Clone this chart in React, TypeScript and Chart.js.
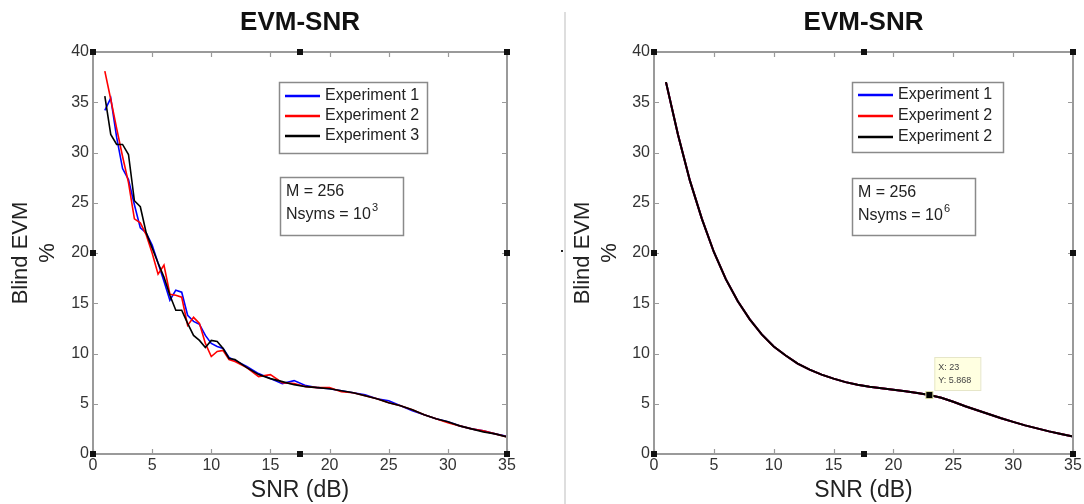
import React, { useEffect, useRef } from 'react';
import { Chart, registerables } from 'chart.js';

Chart.register(...registerables);

const FONT = '"Liberation Sans", Arial, Helvetica, sans-serif';

// ---------- Left panel (Nsyms = 10^3): noisy experiments ----------
const snrNoisy = [
  1, 1.5, 2, 2.5, 3, 3.5, 4, 4.5, 5, 5.5, 6, 6.5, 7, 7.5, 8, 8.5, 9, 9.5, 10, 10.5, 11, 11.5, 12,
  13, 14, 15, 16, 17, 18, 19, 20, 21, 22, 23, 24, 25, 26, 27, 28, 29, 30, 31, 32, 33, 34, 35,
];
const exp1Noisy = [
  34.2, 35.4, 31.5, 28.4, 27.3, 24.8, 22.5, 22.0, 20.8, 19.0, 17.2, 15.3, 16.3, 16.1, 13.8, 13.2, 12.9, 11.8, 11.0, 10.7, 10.5, 9.6, 9.3,
  8.7, 8.0, 7.5, 7.0, 7.3, 6.8, 6.6, 6.5, 6.3, 6.1, 5.9, 5.5, 5.3, 4.8, 4.3, 3.9, 3.5, 3.2, 2.8, 2.5, 2.3, 2.0, 1.75,
];
const exp2Noisy = [
  38.1, 35.3, 32.4, 29.6, 27.0, 23.4, 23.0, 21.8, 20.0, 17.9, 18.8, 15.9, 15.8, 15.6, 12.8, 13.6, 13.0, 11.0, 9.7, 10.2, 10.3, 9.4, 9.2,
  8.6, 7.7, 7.9, 7.1, 7.0, 6.7, 6.6, 6.6, 6.2, 6.1, 5.8, 5.5, 5.1, 4.8, 4.4, 3.9, 3.5, 3.1, 2.8, 2.5, 2.3, 2.0, 1.7,
];
const exp3Noisy = [
  35.6, 31.8, 30.8, 30.8, 29.8, 25.2, 24.6, 22.0, 20.5, 19.0, 17.6, 15.8, 14.3, 14.3, 13.0, 11.8, 11.3, 10.6, 11.3, 11.2, 10.5, 9.5, 9.4,
  8.6, 7.9, 7.5, 7.2, 6.9, 6.7, 6.6, 6.5, 6.3, 6.1, 5.8, 5.5, 5.1, 4.8, 4.4, 3.9, 3.5, 3.2, 2.8, 2.5, 2.2, 2.0, 1.7,
];

// ---------- Right panel (Nsyms = 10^6): smooth experiments ----------
const snrSmooth = [
  1, 2, 3, 4, 5, 6, 7, 8, 9, 10, 11, 12, 13, 14, 15, 16, 17, 18, 19, 20, 21, 22, 23, 24, 25, 26, 27, 28, 29, 30, 31, 32, 33, 34, 35,
];
const exp1Smooth = [
  37.0, 31.8, 27.2, 23.4, 20.1, 17.4, 15.2, 13.4, 11.9, 10.7, 9.8, 9.0, 8.4, 7.9, 7.5, 7.15, 6.9, 6.7, 6.55, 6.4, 6.25, 6.08, 5.868, 5.6, 5.2, 4.75, 4.35, 3.95, 3.55, 3.2, 2.85, 2.55, 2.25, 2.0, 1.75,
];
const exp2Smooth = [
  37.0, 31.8, 27.2, 23.4, 20.1, 17.4, 15.2, 13.4, 11.9, 10.7, 9.8, 9.0, 8.4, 7.9, 7.5, 7.15, 6.9, 6.7, 6.55, 6.4, 6.25, 6.08, 5.868, 5.6, 5.2, 4.75, 4.35, 3.95, 3.55, 3.2, 2.85, 2.55, 2.25, 2.0, 1.75,
];
const exp3Smooth = [
  37.0, 31.8, 27.2, 23.4, 20.1, 17.4, 15.2, 13.4, 11.9, 10.7, 9.8, 9.0, 8.4, 7.9, 7.5, 7.15, 6.9, 6.7, 6.55, 6.4, 6.25, 6.08, 5.868, 5.6, 5.2, 4.75, 4.35, 3.95, 3.55, 3.2, 2.85, 2.55, 2.25, 2.0, 1.75,
];

const xTickValues = [0, 5, 10, 15, 20, 25, 30, 35];
const yTickValues = [0, 5, 10, 15, 20, 25, 30, 35, 40];
const legendLeft = ['Experiment 1', 'Experiment 2', 'Experiment 3'];
const legendRight = ['Experiment 1', 'Experiment 2', 'Experiment 2'];
const seriesColors = ['#0000ff', '#ff0000', '#000000'];
const tipX = 23;
const tipY = 5.868;

type PanelProps = {
  width: number;
  yWidth: number;
  padRight: number;
  xs: number[];
  series: number[][];
  labels: string[];
  nsymsExp: string;
  lineWidth: number;
  legendRect: [number, number, number, number];
  legendLine: [number, number];
  legendTextX: number;
  legendRows: number[];
  annRect: [number, number, number, number];
  showTip: boolean;
};

function makePlugin(p: PanelProps) {
  return {
    id: 'matlabDecor',
    afterDraw(chart: any) {
      const ctx = chart.ctx as CanvasRenderingContext2D;
      const a = chart.chartArea;
      const xs = chart.scales.x;
      const ys = chart.scales.y;
      ctx.save();
      // title
      ctx.fillStyle = '#111';
      ctx.font = `bold 26px ${FONT}`;
      ctx.textAlign = 'center';
      ctx.textBaseline = 'middle';
      ctx.fillText('EVM-SNR', (a.left + a.right) / 2, 23);

      // frame
      ctx.strokeStyle = '#9a9a9a';
      ctx.lineWidth = 2;
      ctx.strokeRect(a.left, a.top, a.right - a.left, a.bottom - a.top);
      ctx.lineWidth = 1.2;
      ctx.beginPath();
      xTickValues.forEach((v) => {
        const px = Math.round(xs.getPixelForValue(v)) + 0.5;
        ctx.moveTo(px, a.bottom);
        ctx.lineTo(px, a.bottom - 5);
        ctx.moveTo(px, a.top);
        ctx.lineTo(px, a.top + 5);
      });
      yTickValues.forEach((v) => {
        const py = Math.round(ys.getPixelForValue(v)) + 0.5;
        ctx.moveTo(a.left, py);
        ctx.lineTo(a.left + 5, py);
        ctx.moveTo(a.right, py);
        ctx.lineTo(a.right - 5, py);
      });
      ctx.stroke();

      // selection handles
      ctx.fillStyle = '#111';
      const mx = (a.left + a.right) / 2;
      const my = (a.top + a.bottom) / 2;
      const handles = [
        [a.left, a.top], [mx, a.top], [a.right, a.top],
        [a.left, my], [a.right, my],
        [a.left, a.bottom], [mx, a.bottom], [a.right, a.bottom],
      ];
      handles.forEach(([hx, hy]) => ctx.fillRect(Math.round(hx) - 3, Math.round(hy) - 3, 6, 6));

      // legend box
      const [lx, ly, lw, lh] = p.legendRect;
      ctx.fillStyle = '#ffffff';
      ctx.fillRect(lx, ly, lw, lh);
      ctx.strokeStyle = '#8a8a8a';
      ctx.lineWidth = 1.5;
      ctx.strokeRect(lx + 0.5, ly + 0.5, lw, lh);
      ctx.font = `16px ${FONT}`;
      ctx.textAlign = 'left';
      ctx.textBaseline = 'middle';
      p.labels.forEach((lab, i) => {
        const ry = p.legendRows[i];
        ctx.strokeStyle = seriesColors[i];
        ctx.lineWidth = 2.5;
        ctx.beginPath();
        ctx.moveTo(p.legendLine[0], ry);
        ctx.lineTo(p.legendLine[1], ry);
        ctx.stroke();
        ctx.fillStyle = '#222';
        ctx.fillText(lab, p.legendTextX, ry);
      });

      // annotation box
      const [ax, ay, aw, ah] = p.annRect;
      ctx.fillStyle = '#ffffff';
      ctx.fillRect(ax, ay, aw, ah);
      ctx.strokeStyle = '#8a8a8a';
      ctx.lineWidth = 1.5;
      ctx.strokeRect(ax + 0.5, ay + 0.5, aw, ah);
      ctx.fillStyle = '#222';
      ctx.font = `16px ${FONT}`;
      ctx.fillText('M = 256', ax + 6, ay + 15);
      const base = 'Nsyms = 10';
      ctx.fillText(base, ax + 6, ay + 38);
      const bw = ctx.measureText(base).width;
      ctx.font = `11px ${FONT}`;
      ctx.fillText(p.nsymsExp, ax + 6 + bw + 1, ay + 31);

      // data tip
      if (p.showTip) {
        const tx = xs.getPixelForValue(tipX);
        const ty = ys.getPixelForValue(tipY);
        const bx = tx + 5;
        const by = ty - 38;
        ctx.fillStyle = '#ffffe1';
        ctx.fillRect(bx, by, 46, 33);
        ctx.strokeStyle = '#e6e6c8';
        ctx.lineWidth = 1;
        ctx.strokeRect(bx + 0.5, by + 0.5, 46, 33);
        ctx.fillStyle = '#444';
        ctx.font = `9px ${FONT}`;
        ctx.fillText('X: ' + tipX, bx + 4, by + 10);
        ctx.fillText('Y: ' + tipY, bx + 4, by + 23);
        ctx.fillStyle = '#d8d8a0';
        ctx.fillRect(tx - 4, ty - 4, 8, 8);
        ctx.fillStyle = '#000';
        ctx.fillRect(tx - 3, ty - 3, 6, 6);
      }
      ctx.restore();
    },
  };
}

function Panel(p: PanelProps) {
  const ref = useRef<HTMLCanvasElement | null>(null);
  useEffect(() => {
    if (!ref.current) return;
    const datasets = p.series.map((ys, i) => ({
      label: p.labels[i],
      data: ys.map((y, j) => ({ x: p.xs[j], y })),
      borderColor: seriesColors[i],
      backgroundColor: seriesColors[i],
      borderWidth: p.lineWidth,
      pointRadius: 0,
      tension: 0,
      order: 2 - i,
    }));
    const chart = new Chart(ref.current, {
      type: 'line',
      data: { datasets },
      options: {
        animation: false,
        responsive: false,
        maintainAspectRatio: false,
        devicePixelRatio: 1,
        layout: { padding: { left: 0, right: p.padRight, top: 52, bottom: 0 } },
        plugins: {
          legend: { display: false },
          tooltip: { enabled: false },
          title: { display: false },
        },
        scales: {
          x: {
            type: 'linear',
            min: 0,
            max: 35,
            afterFit: (s: any) => { s.height = 50; },
            grid: { display: false, drawTicks: false },
            border: { display: false },
            ticks: {
              stepSize: 5,
              autoSkip: false,
              maxRotation: 0,
              padding: 2,
              color: '#333',
              font: { family: FONT, size: 16 },
            },
            title: {
              display: true,
              text: 'SNR (dB)',
              color: '#222',
              font: { family: FONT, size: 23 },
              padding: { top: 0, bottom: 0 },
            },
          },
          y: {
            type: 'linear',
            min: 0,
            max: 40,
            afterFit: (s: any) => { s.width = p.yWidth; },
            grid: { display: false, drawTicks: false },
            border: { display: false },
            ticks: {
              stepSize: 5,
              autoSkip: false,
              padding: 4,
              color: '#333',
              font: { family: FONT, size: 16 },
            },
            title: {
              display: true,
              text: ['Blind EVM', '%'],
              color: '#222',
              font: { family: FONT, size: 22 },
              padding: { top: 8, bottom: 0 },
            },
          },
        },
      },
      plugins: [makePlugin(p)],
    } as any);
    return () => chart.destroy();
  }, []);
  return <canvas ref={ref} width={p.width} height={504} style={{ width: p.width, height: 504, display: 'block' }} />;
}

export default function App() {
  return (
    <div style={{ position: 'fixed', left: 0, top: 0, width: 1084, height: 504, background: '#fff', overflow: 'hidden' }}>
      <div style={{ position: 'absolute', left: 0, top: 0 }}>
        <Panel
          width={562}
          yWidth={93}
          padRight={55}
          xs={snrNoisy}
          series={[exp1Noisy, exp2Noisy, exp3Noisy]}
          labels={legendLeft}
          nsymsExp="3"
          lineWidth={1.6}
          legendRect={[279, 82, 148, 71]}
          legendLine={[285, 320]}
          legendTextX={325}
          legendRows={[96, 116, 136]}
          annRect={[280, 177, 123, 58]}
          showTip={false}
        />
      </div>
      <div style={{ position: 'absolute', left: 564, top: 12, width: 2, height: 492, background: '#dedede' }} />
      <div style={{ position: 'absolute', left: 561, top: 250, width: 2, height: 2, background: '#222' }} />
      <div style={{ position: 'absolute', left: 562, top: 0 }}>
        <Panel
          width={522}
          yWidth={92}
          padRight={11}
          xs={snrSmooth}
          series={[exp1Smooth, exp2Smooth, exp3Smooth]}
          labels={legendRight}
          nsymsExp="6"
          lineWidth={2}
          legendRect={[290, 82, 151, 70]}
          legendLine={[296, 331]}
          legendTextX={336}
          legendRows={[95, 116, 137]}
          annRect={[290, 178, 123, 57]}
          showTip={true}
        />
      </div>
    </div>
  );
}
